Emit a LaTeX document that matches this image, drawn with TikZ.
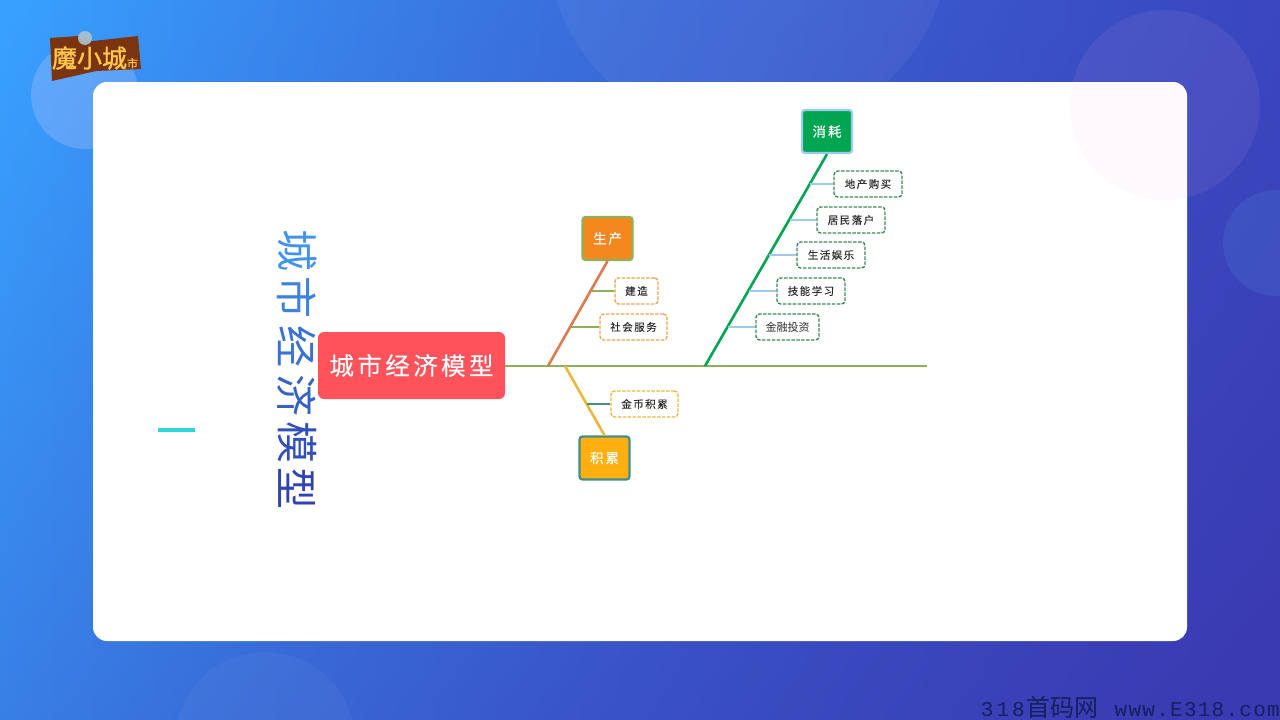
\documentclass[tikz,border=0pt]{standalone}
\usepackage{fontspec}
\usepackage{xcolor}
\usepackage{tikz}
\usetikzlibrary{
    calc,
    fadings,
    positioning
}
\setmainfont{Liberation Serif}
\newfontfamily\cjk{Noto Sans CJK SC}
\newfontfamily\cjkwide[LetterSpace=14,FakeBold=0.25]{Noto Sans CJK SC}
\newfontfamily\cjkbold[FakeBold=1.2]{Noto Sans CJK SC}
\newfontfamily\markfont[LetterSpace=6]{Liberation Mono}
\definecolor{bgleft}{HTML}{38A1FF}
\definecolor{bgmid}{HTML}{3A62DA}
\definecolor{bgright}{HTML}{3A3AB2}
\definecolor{rootred}{HTML}{FF525B}
\definecolor{spinegreen}{HTML}{8DB255}
\definecolor{usegreen}{HTML}{00A551}
\definecolor{useblue}{HTML}{9CCBEE}
\definecolor{leafgreen}{HTML}{3A8A58}
\definecolor{makeorange}{HTML}{F5871F}
\definecolor{makebone}{HTML}{DD7A50}
\definecolor{leaforange}{HTML}{EBA552}
\definecolor{saveyellow}{HTML}{FFB010}
\definecolor{savebone}{HTML}{E8B93A}
\definecolor{saveteal}{HTML}{3F8F8C}
\definecolor{titletop}{HTML}{4193EC}
\definecolor{titlelow}{HTML}{2F3FAF}
\definecolor{dashcyan}{HTML}{2FD6DB}
\definecolor{markblue}{HTML}{14205F}
\definecolor{logobrown}{HTML}{7A3410}
\definecolor{logogold}{HTML}{FFC94A}
\definecolor{ringlilac}{HTML}{E8D8FF}
\tikzfading[name=cornerfade, left color=transparent!100, middle color=transparent!92, right color=transparent!0]
\tikzset{
    x=1pt, y=-1pt,
    rootbox/.style={draw=none, fill=rootred, rounded corners=6pt, text=white, minimum width=187pt,
        minimum height=67pt, inner sep=0pt, font=\cjkwide\fontsize{24.5}{25}\selectfont},
    branchbox/.style={fill=#1, rounded corners=3pt, text=white, line width=2.2pt, minimum width=50pt,
        minimum height=43pt, inner sep=0pt, font=\cjkwide\fontsize{13.5}{14}\selectfont},
    leafbox/.style={draw=#1, fill=white, dashed, dash pattern=on 3.5pt off 1.4pt, rounded corners=3.5pt, text=black!82,
        line width=1.4pt, minimum height=26pt, inner sep=0pt, font=\cjkwide\fontsize{10.5}{11}\selectfont},
    bone/.style={line width=2.6pt},
    twig/.style={line width=2.2pt},
    titlechar/.style={rotate=-90, inner sep=0pt, font=\cjk\fontsize{42}{42}\selectfont}
}
\begin{document}
\begin{tikzpicture}
    \useasboundingbox (0, 0) rectangle (1280, 720);
    \clip (0, 0) rectangle (1280, 720);

    % background
    \shade[left color=bgleft, right color=bgmid] (0, 0) rectangle (1280, 720);
    \fill[bgright, path fading=cornerfade, fading angle=-30] (-160, -160) rectangle (1440, 880);
    \fill[white, opacity=.05] (748, -64) circle (202);
    \fill[white, opacity=.04] (265, 742) circle (90);
    \fill[ringlilac, opacity=.22] (85, 95) circle (54);
    \fill[cyan!60, opacity=.1] (1276, 243) circle (53);
    \fill[white, rounded corners=14pt] (93, 82) rectangle (1187, 641);
    \fill[magenta!25, opacity=.08] (1165, 105) circle (95);

    % logo
    \fill[logobrown] (50, 38) -- (78, 36) -- (84, 42) -- (138, 36) -- (141, 69) -- (96, 71) -- (52, 81) -- cycle;
    \fill[cyan!25!gray!60, opacity=.9] (85, 38) circle (7);
    \node[inner sep=0pt, text=logogold] (logo) at (95, 58) {\cjkbold\fontsize{25}{25}\selectfont 魔小城\fontsize{11}{11}\selectfont 市};

    % title
    \fill[dashcyan] (158, 428) rectangle (195, 432);
    \foreach \ch/\ypos/\mixv in {城/250/100, 市/297/80, 经/346/60, 济/395/40, 模/442/20, 型/488/5} {
        \node[titlechar, text=titletop!\mixv!titlelow] (t\ypos) at (297, \ypos) {\ch};
    }

    % diagram
    \node[rootbox] (root) at (411.5, 365.5) {城市经济模型};
    \node[branchbox=usegreen, draw=useblue] (use) at (827, 131.5) {消耗};
    \node[branchbox=makeorange, draw=spinegreen] (make) at (607.5, 238.5) {生产};
    \node[branchbox=saveyellow, draw=saveteal] (save) at (604.5, 458) {积累};

    \node[leafbox=leafgreen, minimum width=68pt] (house) at (868, 184) {地产购买};
    \node[leafbox=leafgreen, minimum width=68pt] (settle) at (851, 220) {居民落户};
    \node[leafbox=leafgreen, minimum width=68pt] (play) at (831, 255) {生活娱乐};
    \node[leafbox=leafgreen, minimum width=68pt] (learn) at (811, 291) {技能学习};
    \node[leafbox=leafgreen, minimum width=63pt, font=\cjk\fontsize{11}{11}\selectfont] (invest) at (787.5, 327) {金融投资};
    \node[leafbox=leaforange, minimum width=43pt] (build) at (636.5, 291) {建造};
    \node[leafbox=leaforange, minimum width=67pt] (serve) at (633.5, 327) {社会服务};
    \node[leafbox=savebone, minimum width=67pt] (coin) at (644.5, 404) {金币积累};

    \coordinate (spineend) at (927, 366);
    \coordinate (jmake) at (548, 366);
    \coordinate (jsave) at (565, 366);
    \coordinate (juse) at (705, 366);
    \coordinate (thouse) at (810, 184);
    \coordinate (tsettle) at (790, 220);
    \coordinate (tplay) at (769, 255);
    \coordinate (tlearn) at (749, 291);
    \coordinate (tinvest) at (728, 327);
    \coordinate (tbuild) at (592, 291);
    \coordinate (tserve) at (571, 327);
    \coordinate (tcoin) at (587, 404);

    \draw[spinegreen, line width=1.7pt] (root.east |- spineend) -- (spineend);
    \draw[bone, usegreen] (juse) -- (use.south);
    \draw[bone, makebone] (jmake) -- (make.south);
    \draw[bone, savebone] (jsave) -- (save.north);

    \draw[twig, useblue]
    (thouse) -- (house.west)
    (tsettle) -- (settle.west)
    (tplay) -- (play.west)
    (tlearn) -- (learn.west)
    (tinvest) -- (invest.west);
    \draw[twig, spinegreen]
    (tbuild) -- (build.west)
    (tserve) -- (serve.west);
    \draw[twig, saveteal] (tcoin) -- (coin.west);

    % watermark
    \node[anchor=east, inner sep=0pt, text=markblue] (mark) at (1280, 707) {\markfont\fontsize{21}{21}\selectfont 3\hspace{3pt}1\hspace{3pt}8\hspace{2pt}{\cjk\fontsize{24}{24}\selectfont 首码网}\hspace{16pt}www.E318.com};
\end{tikzpicture}
\end{document}
